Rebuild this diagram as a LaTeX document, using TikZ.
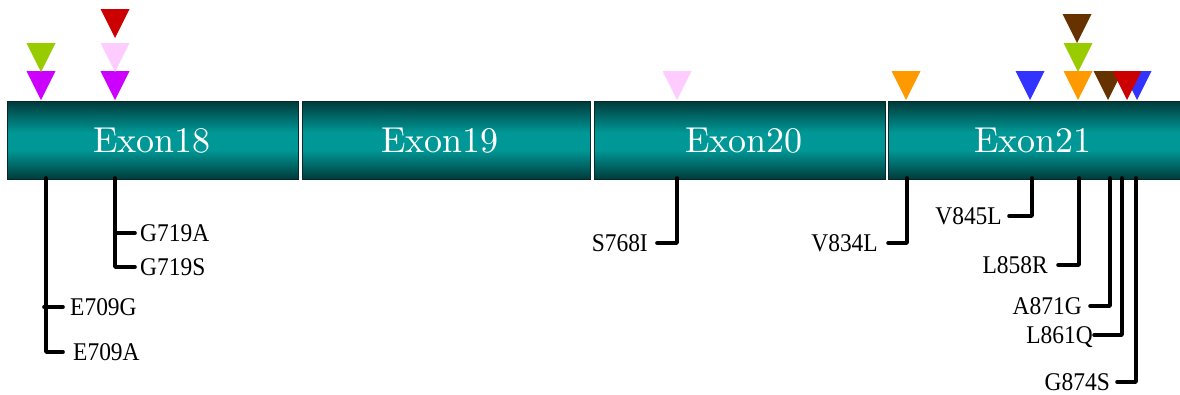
\documentclass[tikz,border=0pt]{standalone}
\usepackage{fontspec}
\newfontfamily\mutfont[FakeStretch=0.92]{Liberation Serif}
\newfontfamily\exfont{lmroman10-regular}[Extension=.otf]
\definecolor{exdark}{RGB}{0,58,58}
\definecolor{exmid}{RGB}{0,152,150}
\definecolor{exline}{RGB}{10,40,40}
\definecolor{mMagenta}{RGB}{204,0,255}
\definecolor{mGreen}{RGB}{153,204,0}
\definecolor{mPink}{RGB}{255,204,255}
\definecolor{mRed}{RGB}{204,0,0}
\definecolor{mOrange}{RGB}{255,153,0}
\definecolor{mBlue}{RGB}{51,51,255}
\definecolor{mBrown}{RGB}{102,51,0}
\pgfdeclareverticalshading{exonshade}{100bp}{color(0bp)=(exdark); color(25bp)=(exdark); color(44bp)=(exmid); color(55bp)=(exmid); color(75bp)=(exdark); color(100bp)=(exdark)}
% downward-pointing mutation marker: colour, tip x, tip y
\newcommand\vtri[3]{\fill[#1] ({#2-14.5},{#3-29}) -- ({#2+14.5},{#3-29}) -- (#2,#3) -- cycle;}
\tikzset{
  exon/.style={shading=exonshade, draw=exline, line width=0.8pt, inner sep=0pt,
    minimum height=78pt, anchor=north west},
  exonlabel/.style={text=white, font=\exfont\fontsize{36}{36}\selectfont, anchor=base, inner sep=0pt},
  mutlabel/.style={font=\mutfont\fontsize{25.5}{25.5}\selectfont, inner ysep=0pt,
    text height=16.9pt, text depth=0pt},
  mutR/.style={mutlabel, anchor=west, inner xsep=#1},
  mutL/.style={mutlabel, anchor=east, inner xsep=#1},
  stem/.style={line width=3.6pt, line cap=round, line join=round},
}
\begin{document}
\begin{tikzpicture}[x=1pt,y=-1pt]
\useasboundingbox (0,0) rectangle (1180,394);

% exon bar
\node[exon, minimum width=291pt] (e18) at (7,101) {};
\node[exon, minimum width=288pt] (e19) at (302,101) {};
\node[exon, minimum width=291pt] (e20) at (594,101) {};
\node[exon, minimum width=300pt] (e21) at (888,101) {};
\node[exonlabel] (l18) at (152,152) {Exon18};
\node[exonlabel] (l19) at (440,152) {Exon19};
\node[exonlabel] (l20) at (744,152) {Exon20};
\node[exonlabel] (l21) at (1033,152) {Exon21};

% markers above the bar
\vtri{mMagenta}{41}{100}
\vtri{mGreen}{41}{72}
\vtri{mMagenta}{115}{100}
\vtri{mPink}{115}{72}
\vtri{mRed}{115}{38}
\vtri{mPink}{677}{100}
\vtri{mOrange}{906}{100}
\vtri{mBlue}{1030}{100}
\vtri{mOrange}{1078}{100}
\vtri{mGreen}{1078}{72}
\vtri{mBrown}{1077}{43}
\vtri{mBrown}{1108}{100}
\vtri{mBlue}{1137}{100}
\vtri{mRed}{1127}{100}

% stem origins on the lower edge of the bar
\coordinate (p709) at (46,178);
\coordinate (p719) at (115,178);
\coordinate (p768) at (677,178);
\coordinate (p834) at (907,178);
\coordinate (p845) at (1032,178);
\coordinate (p858) at (1079,178);
\coordinate (p871) at (1110,178);
\coordinate (p861) at (1122,178);
\coordinate (p874) at (1136,178);

% mutation labels
\node[mutR=7pt]  (E709G) at (63,307) {E709G};
\node[mutR=10pt] (E709A) at (63,352) {E709A};
\node[mutR=5pt]  (G719A) at (135,233) {G719A};
\node[mutR=5pt]  (G719S) at (135,267) {G719S};
\node[mutL=9pt]  (S768I) at (657,243) {S768I};
\node[mutL=10pt] (V834L) at (888,243) {V834L};
\node[mutL=7pt]  (V845L) at (1009,216) {V845L};
\node[mutL=10pt] (L858R) at (1058,265) {L858R};
\node[mutL=8pt]  (A871G) at (1090,306) {A871G};
\node[mutL=1pt]  (L861Q) at (1094,335) {L861Q};
\node[mutL=7pt]  (G874S) at (1117,382) {G874S};

% stems
\draw[stem] (p709) |- (E709A.west);
\draw[stem] ([xshift=-2pt]p709 |- E709G.west) -- (E709G.west);
\draw[stem] (p719) |- (G719S.west);
\draw[stem] (p719 |- G719A.west) -- (G719A.west);
\draw[stem] (p768) |- (S768I.east);
\draw[stem] (p834) |- (V834L.east);
\draw[stem] (p845) |- (V845L.east);
\draw[stem] (p858) |- (L858R.east);
\draw[stem] (p871) |- (A871G.east);
\draw[stem] (p861) |- (L861Q.east);
\draw[stem] (p874) |- (G874S.east);
\end{tikzpicture}
\end{document}
